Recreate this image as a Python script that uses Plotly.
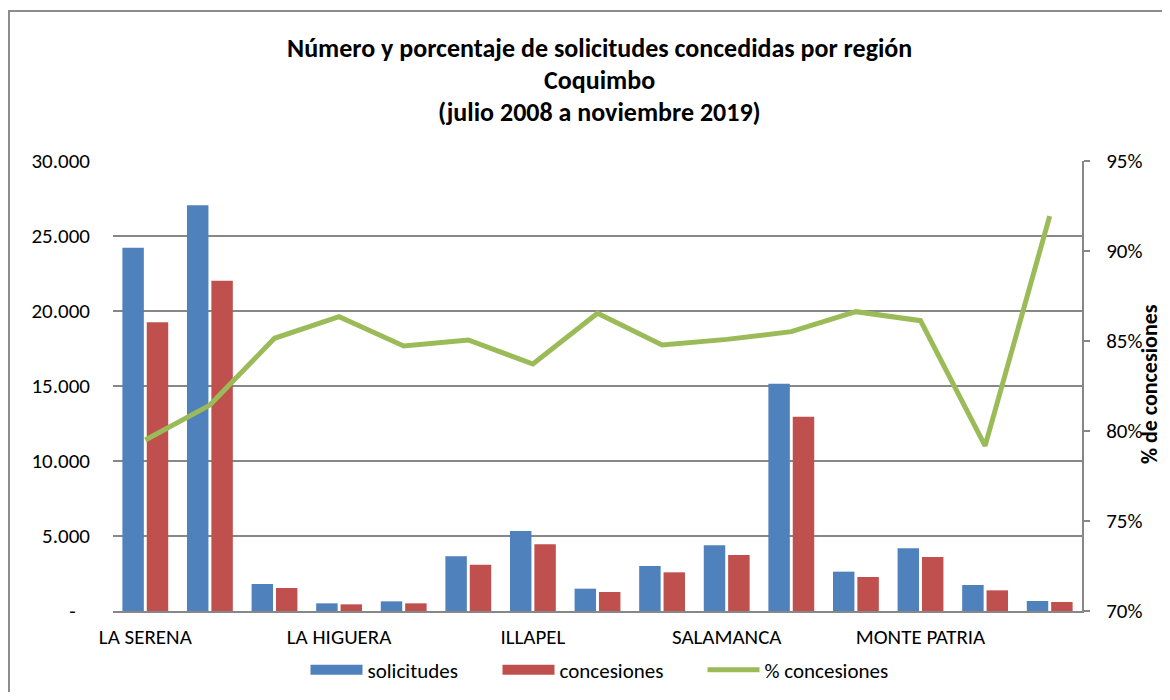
import plotly.graph_objects as go

categories = ["LA SERENA", "COQUIMBO", "ANDACOLLO", "LA HIGUERA", "PAIHUANO",
              "VICUÑA", "ILLAPEL", "CANELA", "LOS VILOS", "SALAMANCA",
              "OVALLE", "COMBARBALÁ", "MONTE PATRIA", "PUNITAQUI", "RÍO HURTADO"]
solicitudes = [24220, 27045, 1800, 511, 644, 3644, 5333, 1489, 3000, 4378,
               15156, 2622, 4178, 1733, 667]
concesiones = [19245, 22023, 1533, 444, 511, 3089, 4444, 1267, 2578, 3733,
               12956, 2267, 3600, 1378, 600]
pct_concesiones = [0.7950, 0.8144, 0.8515, 0.8635, 0.8472, 0.8506, 0.8372, 0.8654,
                   0.8478, 0.8509, 0.8552, 0.8663, 0.8613, 0.7917, 0.9194]

shown_labels = ["LA SERENA", "LA HIGUERA", "ILLAPEL", "SALAMANCA", "MONTE PATRIA"]
left_ticks = [0, 5000, 10000, 15000, 20000, 25000, 30000]
left_ticktext = ["-\u00a0\u00a0\u00a0", "5.000", "10.000", "15.000", "20.000", "25.000", "30.000"]
right_ticks = [0.70, 0.75, 0.80, 0.85, 0.90, 0.95]

FONT = "Calibri, Carlito, Lato, 'Liberation Sans', Arial, sans-serif"
GRID = "#878787"
BLUE, RED, GREEN = "#4F81BD", "#C0504D", "#9BBB59"

fig = go.Figure()
fig.add_trace(go.Bar(x=categories, y=solicitudes, name="solicitudes",
                     marker=dict(color=BLUE, line=dict(width=0)),
                     showlegend=False, legendgroup="sol"))
fig.add_trace(go.Bar(x=categories, y=concesiones, name="concesiones",
                     marker=dict(color=RED, line=dict(width=0)),
                     showlegend=False, legendgroup="con"))
fig.add_trace(go.Scatter(x=categories, y=pct_concesiones, name="% concesiones",
                         mode="lines", yaxis="y2", showlegend=False, legendgroup="pct",
                         line=dict(color=GREEN, width=5)))
# legend entries (wide rectangular swatches like the original)
fig.add_trace(go.Scatter(x=[None], y=[None], name="solicitudes", mode="lines",
                         legendgroup="sol", legendwidth=125,
                         line=dict(color=BLUE, width=12)))
fig.add_trace(go.Scatter(x=[None], y=[None], name="concesiones", mode="lines",
                         legendgroup="con", legendwidth=138,
                         line=dict(color=RED, width=12)))
fig.add_trace(go.Scatter(x=[None], y=[None], name="% concesiones", mode="lines",
                         legendgroup="pct", yaxis="y2", legendwidth=125,
                         line=dict(color=GREEN, width=5)))

# page has an 8px body margin on every side: keep the figure inside the
# 1170x700 window (no scrollbars); figure coordinates = page coordinates - 8
OFF = 8
W, H = 1170 - 2 * OFF, 700 - 2 * OFF
L, T = 113 - OFF, 161 - OFF
R = W - (1082 - OFF)
B = H - (611 - OFF)
pw, ph = W - L - R, H - T - B

def px(x):
    return (x - OFF - L) / pw

def py(y):
    return (H - B - (y - OFF)) / ph

titles = ["Número y porcentaje de solicitudes concedidas por región",
          "Coquimbo", "(julio 2008 a noviembre 2019)"]
title_y = [48, 80, 112]
annotations = []
for t, yy in zip(titles, title_y):
    annotations.append(dict(text="<b>" + t + "</b>", x=px(599), y=py(yy), xref="paper", yref="paper",
                            xanchor="center", yanchor="middle", showarrow=False,
                            font=dict(family=FONT, size=26, color="black")))
# right axis title
annotations.append(dict(text="<b>% de concesiones</b>", x=px(1149), y=py(384),
                        xref="paper", yref="paper", xanchor="center", yanchor="middle",
                        textangle=-90, showarrow=False,
                        font=dict(family=FONT, size=22, color="black")))

fig.update_layout(
    width=W, height=H, autosize=False,
    margin=dict(l=L, r=R, t=T, b=B, pad=0, autoexpand=False),
    paper_bgcolor="white", plot_bgcolor="white",
    font=dict(family=FONT, size=21, color="black"),
    barmode="group", bargap=0.245, bargroupgap=0.12,
    xaxis=dict(tickmode="array", tickvals=shown_labels, ticktext=shown_labels,
               showline=True, linecolor=GRID, linewidth=2, ticks="",
               showgrid=False, tickfont=dict(size=21), range=[-0.5, 14.5],
               ticklabelstandoff=6, automargin=False),
    yaxis=dict(range=[0, 30000], tickmode="array", tickvals=left_ticks, ticktext=left_ticktext,
               showgrid=True, gridcolor=GRID, gridwidth=2, zeroline=False,
               showline=False, ticks="", tickfont=dict(size=21), ticklabelstandoff=22,
               automargin=False),
    yaxis2=dict(range=[0.70, 0.95], overlaying="y", side="right", tickmode="array",
                tickvals=right_ticks, tickformat=".0%", showgrid=False, zeroline=False,
                showline=True, linecolor=GRID, linewidth=2, ticks="outside", ticklen=6,
                tickcolor=GRID, tickwidth=2, tickfont=dict(size=21), ticklabelstandoff=12,
                automargin=False),
    legend=dict(orientation="h", x=px(600), xanchor="center", y=py(670), yanchor="middle",
                font=dict(size=21), bgcolor="rgba(0,0,0,0)", itemwidth=52),
    showlegend=True,
    annotations=annotations,
    shapes=[dict(type="rect", xref="paper", yref="paper",
                 x0=px(9), x1=px(1180), y0=py(710), y1=py(11),
                 line=dict(color="#8c8c8c", width=2), fillcolor="rgba(0,0,0,0)", layer="above")],
)

fig.write_html("out.html")
